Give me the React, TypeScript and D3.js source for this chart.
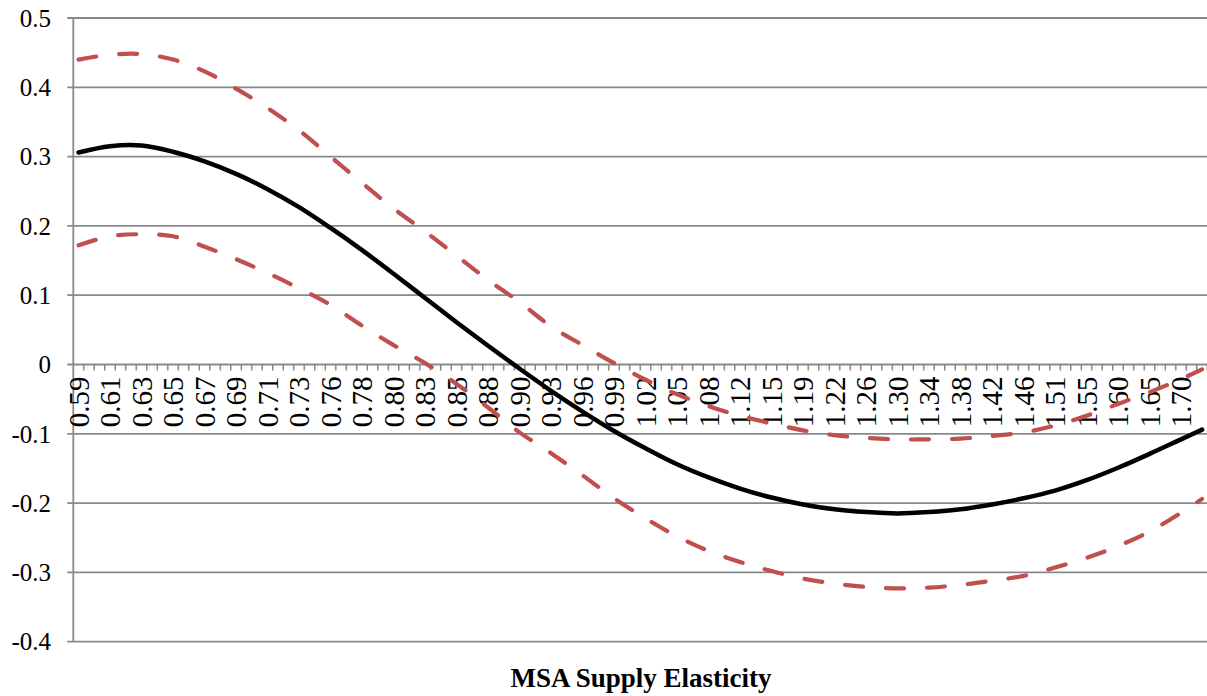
import * as d3 from 'd3';
import React, { useEffect, useRef } from 'react';

// category labels, one shown every third category (108 categories in all)
const xLabels = [
  '0.59', '0.61', '0.63', '0.65', '0.67', '0.69', '0.71', '0.73', '0.76', '0.78',
  '0.80', '0.83', '0.85', '0.88', '0.90', '0.93', '0.96', '0.99', '1.02', '1.05',
  '1.08', '1.12', '1.15', '1.19', '1.22', '1.26', '1.30', '1.34', '1.38', '1.42',
  '1.46', '1.51', '1.55', '1.60', '1.65', '1.70',
];
const categoryCount = 108;
const labelStep = 3;

// values read at each labelled category, plus the last category
const estimate = [
  0.306, 0.315, 0.316, 0.307, 0.293, 0.275, 0.253, 0.227, 0.197, 0.165,
  0.131, 0.096, 0.061, 0.027, -0.006, -0.038, -0.068, -0.096, -0.121, -0.144,
  -0.163, -0.179, -0.192, -0.202, -0.209, -0.213, -0.215, -0.213, -0.209, -0.202,
  -0.193, -0.182, -0.167, -0.149, -0.129, -0.108, -0.094,
];
const upperBand = [
  0.440, 0.447, 0.448, 0.440, 0.423, 0.398, 0.370, 0.338, 0.300, 0.262,
  0.225, 0.192, 0.157, 0.122, 0.090, 0.055, 0.028, 0.002, -0.022, -0.043,
  -0.060, -0.074, -0.085, -0.095, -0.102, -0.106, -0.108, -0.108, -0.107, -0.103,
  -0.098, -0.088, -0.074, -0.057, -0.040, -0.021, -0.007,
];
const lowerBand = [
  0.172, 0.185, 0.188, 0.185, 0.170, 0.152, 0.132, 0.110, 0.086, 0.056,
  0.028, 0.002, -0.028, -0.062, -0.098, -0.128, -0.160, -0.193, -0.222, -0.248,
  -0.269, -0.285, -0.298, -0.309, -0.316, -0.321, -0.323, -0.322, -0.318, -0.312,
  -0.305, -0.293, -0.279, -0.262, -0.241, -0.214, -0.194,
];

const yTicks = [0.5, 0.4, 0.3, 0.2, 0.1, 0, -0.1, -0.2, -0.3, -0.4];
const yTickLabels = ['0.5', '0.4', '0.3', '0.2', '0.1', '0', '-0.1', '-0.2', '-0.3', '-0.4'];

const axisTitle = 'MSA Supply Elasticity';

function App() {
  const svgRef = useRef(null);

  useEffect(() => {
    const width = 1207;
    const height = 696;
    const left = 73.3;
    const right = 1207.3;
    const top = 18;
    const bottom = 641.7;
    const gridColor = '#898989';
    const font = '"Liberation Serif", "Times New Roman", serif';

    const svg = d3.select(svgRef.current)
      .attr('width', width)
      .attr('height', height);
    svg.selectAll('*').remove();

    const x = d3.scaleBand()
      .domain(d3.range(categoryCount))
      .range([left, right])
      .padding(0);
    const bw = x.bandwidth();
    const y = d3.scaleLinear().domain([-0.4, 0.5]).range([bottom, top]);

    // horizontal gridlines + y tick marks
    svg.append('g')
      .selectAll('line')
      .data(yTicks)
      .join('line')
      .attr('x1', left - 6)
      .attr('x2', right)
      .attr('y1', d => y(d))
      .attr('y2', d => y(d))
      .attr('stroke', gridColor)
      .attr('stroke-width', 1.8);

    svg.append('g')
      .selectAll('text')
      .data(yTicks)
      .join('text')
      .attr('x', 51)
      .attr('y', d => y(d))
      .attr('dy', '0.35em')
      .attr('text-anchor', 'end')
      .attr('font-family', font)
      .attr('font-size', 25)
      .text((d, i) => yTickLabels[i]);

    // vertical value axis
    svg.append('line')
      .attr('x1', left).attr('x2', left)
      .attr('y1', top).attr('y2', bottom)
      .attr('stroke', gridColor)
      .attr('stroke-width', 1.8);

    // category axis at zero, ticks between categories
    const y0 = y(0);
    svg.append('g')
      .selectAll('line')
      .data(d3.range(1, categoryCount + 1))
      .join('line')
      .attr('x1', d => left + d * bw)
      .attr('x2', d => left + d * bw)
      .attr('y1', y0)
      .attr('y2', y0 + 6)
      .attr('stroke', gridColor)
      .attr('stroke-width', 1.5);

    svg.append('g')
      .selectAll('text')
      .data(xLabels)
      .join('text')
      .attr('transform', (d, i) => `translate(${x(i * labelStep) + bw / 2},${y0 + 12}) rotate(-90)`)
      .attr('dy', '0.35em')
      .attr('text-anchor', 'end')
      .attr('font-family', font)
      .attr('font-size', 29)
      .text(d => d);

    const catOf = i => (i < xLabels.length ? i * labelStep : categoryCount - 1);
    const line = d3.line()
      .x((d, i) => x(catOf(i)) + bw / 2)
      .y(d => y(d))
      .curve(d3.curveCatmullRom);

    svg.append('path')
      .datum(upperBand)
      .attr('fill', 'none')
      .attr('stroke', '#C0504D')
      .attr('stroke-width', 4.2)
      .attr('stroke-linecap', 'round')
      .attr('stroke-dasharray', '18 23')
      .attr('d', line);

    svg.append('path')
      .datum(lowerBand)
      .attr('fill', 'none')
      .attr('stroke', '#C0504D')
      .attr('stroke-width', 4.2)
      .attr('stroke-linecap', 'round')
      .attr('stroke-dasharray', '18 23')
      .attr('d', line);

    svg.append('path')
      .datum(estimate)
      .attr('fill', 'none')
      .attr('stroke', '#000')
      .attr('stroke-width', 4.5)
      .attr('stroke-linecap', 'round')
      .attr('d', line);

    svg.append('text')
      .attr('x', 641)
      .attr('y', 687)
      .attr('text-anchor', 'middle')
      .attr('font-family', font)
      .attr('font-weight', 'bold')
      .attr('font-size', 27)
      .text(axisTitle);
  }, []);

  return <svg ref={svgRef} style={{ position: 'absolute', left: 0, top: 0 }} />;
}

export default App;
